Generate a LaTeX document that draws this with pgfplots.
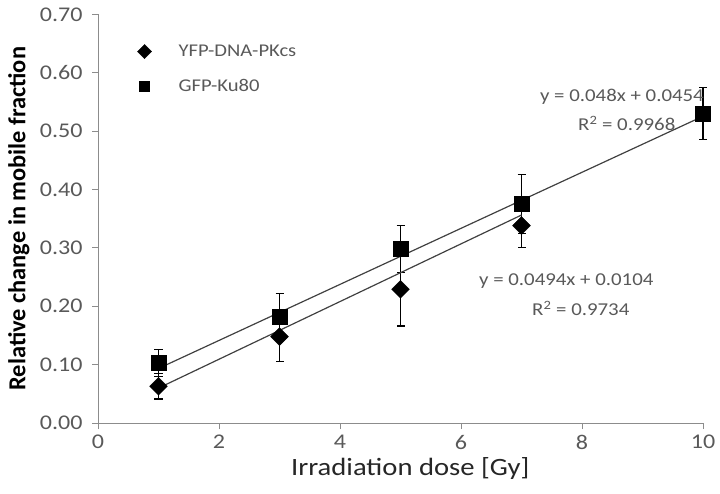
\documentclass[border=0pt]{standalone}
\usepackage{fontspec}
\setmainfont[FakeStretch=1.15]{Carlito}
\newfontfamily\plainfont{Carlito}
\usepackage{pgfplots}
\pgfplotsset{compat=1.18}
\definecolor{tickgray}{HTML}{595959}
\definecolor{axgray}{HTML}{8C8C8C}
\definecolor{trend}{HTML}{404040}
\begin{document}
\begin{tikzpicture}
\useasboundingbox (-98bp,-70.3bp) rectangle (622bp,423bp);
\begin{axis}[
  scale only axis, width=605bp, height=408.7bp,
  xmin=0, xmax=10, ymin=0, ymax=0.7,
  xtick={0,2,4,6,8,10},
  ytick={0,0.1,0.2,0.3,0.4,0.5,0.6,0.7},
  axis x line*=bottom, axis y line*=left,
  hide obscured x ticks=false, hide obscured y ticks=false,
  axis line style={axgray, line width=0.8pt, -},
  tick style={axgray, line width=0.8pt},
  tick align=outside, major tick length=6bp,
  tick label style={font=\fontsize{21}{22}\selectfont, text=tickgray},
  /pgf/number format/assume math mode=true,
  yticklabel style={/pgf/number format/fixed, /pgf/number format/fixed zerofill, /pgf/number format/precision=2, xshift=-6bp},
  xticklabel style={yshift=-5bp, inner sep=1bp},
  scaled y ticks=false,
  xlabel={Irradiation dose [Gy]},
  ylabel={\plainfont\bfseries Relative change in mobile fraction},
  xlabel style={font=\fontsize{25}{26}\selectfont, text=black!85, anchor=center, inner sep=0pt, at={(axis description cs:0.516,-0.112)}},
  ylabel style={font=\fontsize{24.5}{26}\selectfont, text=black, anchor=center, at={(axis description cs:-0.131,0.5)}},
  legend style={draw=none, fill=none, at={(0.06,0.935)}, anchor=north west, font=\fontsize{18}{22}\selectfont, text=tickgray, row sep=17bp, legend cell align=left},
  legend image code/.code={\path[draw=none] (-6bp,0) -- (32bp,0); \draw[#1, mark size=5bp] plot coordinates {(0bp,0bp)};},
  clip=false,
]
% YFP-DNA-PKcs
\addplot[only marks, mark=square*, mark size=6.3bp, mark options={rotate=45, fill=black, draw=black},
  error bars/.cd, y dir=both, y explicit, error mark=-, error mark options={rotate=90, line width=1.2pt, mark size=4bp, black}, error bar style={line width=1.2pt, black}]
  coordinates {
  (1,0.063) +- (0,0.022)
  (3,0.148) +- (0,0.042)
  (5,0.229) +- (0,0.063)
  (7,0.338) +- (0,0.038)
  };
\addlegendentry{YFP-DNA-PKcs}
% GFP-Ku80
\addplot[only marks, mark=square*, mark size=7.5bp, mark options={fill=black, draw=black},
  error bars/.cd, y dir=both, y explicit, error mark=-, error mark options={rotate=90, line width=1.2pt, mark size=4bp, black}, error bar style={line width=1.2pt, black}]
  coordinates {
  (1,0.103) +- (0,0.023)
  (3,0.182) +- (0,0.040)
  (5,0.298) +- (0,0.040)
  (7,0.375) +- (0,0.051)
  (10,0.530) +- (0,0.045)
  };
\addlegendentry{GFP-Ku80}
% trendlines
\addplot[forget plot, trend, line width=1.2pt] coordinates {(1,0.0934) (10,0.5254)};
\addplot[forget plot, trend, line width=1.2pt] coordinates {(1,0.0598) (7,0.3562)};
\node[font=\fontsize{18.2}{22}\selectfont, text=tickgray] at (axis cs:8.66,0.5588) {y = 0.048x + 0.0454};
\node[font=\fontsize{18.2}{22}\selectfont, text=tickgray] at (axis cs:8.74,0.513) {R\textsuperscript{2} = 0.9968};
\node[font=\fontsize{18.2}{22}\selectfont, text=tickgray] at (axis cs:7.74,0.2436) {y = 0.0494x + 0.0104};
\node[font=\fontsize{18.2}{22}\selectfont, text=tickgray] at (axis cs:7.98,0.196) {R\textsuperscript{2} = 0.9734};
\end{axis}
\end{tikzpicture}
\end{document}
